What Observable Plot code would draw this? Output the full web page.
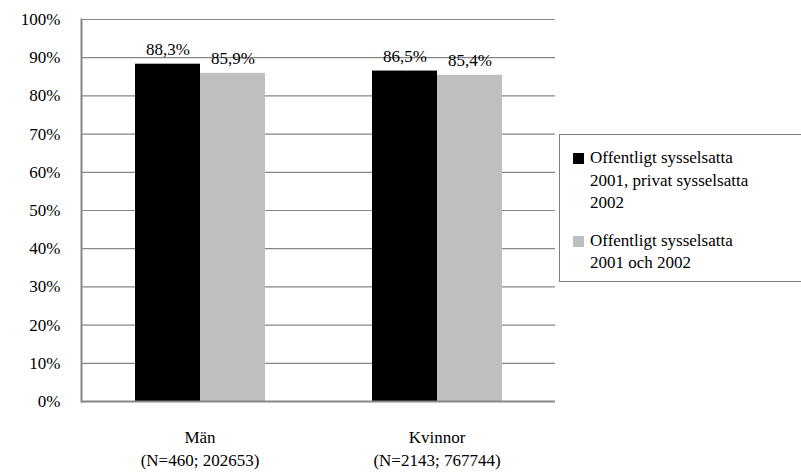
<!DOCTYPE html>
<html><head><meta charset="utf-8">
<script src="https://cdn.jsdelivr.net/npm/d3@7"></script>
<script src="https://cdn.jsdelivr.net/npm/@observablehq/plot@0.6"></script>
<style>
body{margin:0;background:#fff;font-family:'Liberation Serif',serif}
#wrap{position:relative;width:801px;height:472px;overflow:hidden}
#legend{position:absolute;left:559px;top:134px;width:260px;height:148px;border:1px solid #808080;box-sizing:border-box;font-size:17px;line-height:22.5px;color:#000;padding-top:12px}
.item{position:relative;padding-left:30px;margin-bottom:15px}
.sw{position:absolute;left:13px;top:6px;width:11px;height:11px}
</style></head>
<body><div id="wrap"><div id="chart"></div><div id="legend"></div></div>
<script>
const categories = ["Män", "Kvinnor"];
const categoryN = ["(N=460; 202653)", "(N=2143; 767744)"];
const seriesNames = ["Offentligt sysselsatta 2001, privat sysselsatta 2002", "Offentligt sysselsatta 2001 och 2002"];
const seriesLegendLines = [["Offentligt sysselsatta", "2001, privat sysselsatta", "2002"], ["Offentligt sysselsatta", "2001 och 2002"]];
const privatValues = [88.3, 86.5];
const offentligValues = [85.9, 85.4];
const colors = ["#000000", "#bfbfbf"];
const yTicks = [0, 10, 20, 30, 40, 50, 60, 70, 80, 90, 100];

const data = [];
categories.forEach((c, i) => {
  data.push({category: c, series: seriesNames[0], value: privatValues[i]});
  data.push({category: c, series: seriesNames[1], value: offentligValues[i]});
});
const fmt = v => v.toFixed(1).replace(".", ",") + "%";
const font = "Liberation Serif";

const chart = Plot.plot({
  width: 801, height: 472,
  marginLeft: 80, marginRight: 246, marginTop: 19, marginBottom: 71,
  style: {fontFamily: font, fontSize: "17px", color: "#000", background: "#fff"},
  fx: {domain: categories, padding: 0, label: null, axis: null},
  x: {domain: seriesNames, paddingInner: 0, paddingOuter: 0.8, axis: null},
  y: {domain: [0, 100], axis: null},
  color: {domain: seriesNames, range: colors},
  marks: [
    Plot.ruleY(yTicks, {stroke: "#868686", strokeWidth: 1.2}),
    Plot.barY(data, {fx: "category", x: "series", y: "value", fill: "series"}),
    Plot.text(data, {fx: "category", x: "series", y: "value", text: d => fmt(d.value), lineAnchor: "bottom", dy: -9, fontSize: 17, fontFamily: font, fill: "#000"}),
    Plot.ruleY([0], {stroke: "#868686", strokeWidth: 2}),
    Plot.frame({anchor: "left", facetAnchor: "left", stroke: "#868686", strokeWidth: 2}),
    Plot.axisY({ticks: yTicks, tickSize: 0, tickPadding: 21, tickFormat: d => d + "%", label: null, fontSize: 17, fontFamily: font}),
    Plot.axisFx({anchor: "bottom", tickSize: 0, tickPadding: 24, label: null, fontSize: 17, fontFamily: font, lineHeight: 1.41,
      tickFormat: d => d + "\n" + categoryN[categories.indexOf(d)]})
  ]
});
document.getElementById("chart").appendChild(chart);

const legend = document.getElementById("legend");
seriesNames.forEach((s, i) => {
  const item = document.createElement("div");
  item.className = "item";
  const sw = document.createElement("div");
  sw.className = "sw";
  sw.style.background = colors[i];
  item.appendChild(sw);
  seriesLegendLines[i].forEach(l => {
    const line = document.createElement("div");
    line.textContent = l;
    item.appendChild(line);
  });
  legend.appendChild(item);
});
</script></body></html>
